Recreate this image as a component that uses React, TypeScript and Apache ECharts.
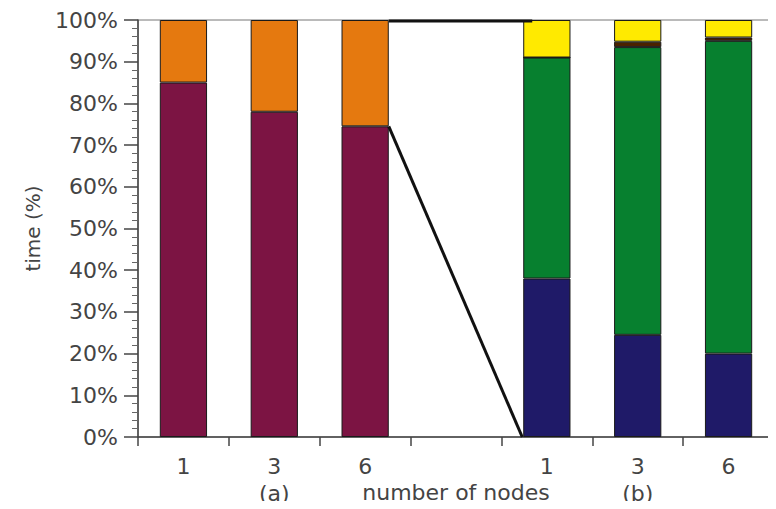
import React, { useEffect, useRef } from "react";
import * as echarts from "echarts";

const categories = ["1", "3", "6", "", "1", "3", "6"];
const groupLabels = ["", "(a)", "", "", "", "(b)", ""];
const maroon = [85, 78, 74.5, null, null, null, null];
const orange = [15, 22, 25.5, null, null, null, null];
const navy = [null, null, null, null, 38, 24.5, 20];
const green = [null, null, null, null, 53, 69, 75];
const brown = [null, null, null, null, 0, 1.3, 0.8];
const yellow = [null, null, null, null, 9, 5.2, 4.2];
// zoom connectors: [fromCategory, fromValue, toCategory, toValue]
const connectors = [
  [2, 74.5, 4, 0],
  [2, 100, 4, 100],
];

const FONT = "DejaVu Sans";
const BAR_PCT = 0.52;

export default function App() {
  const ref = useRef<HTMLDivElement>(null);
  useEffect(() => {
    if (!ref.current) return;
    const chart = echarts.init(ref.current, undefined, { renderer: "svg" });
    const keys = categories.map((c, i) => `${i}|${c}`);
    const barStyle = (color: string) => ({
      color,
      borderColor: "#1a1a1a",
      borderWidth: 1,
    });
    const mk = (name: string, data: (number | null)[], color: string) => ({
      name,
      type: "bar",
      stack: "total",
      data,
      barWidth: `${BAR_PCT * 100}%`,
      itemStyle: barStyle(color),
    });
    chart.setOption({
      animation: false,
      backgroundColor: "#ffffff",
      textStyle: { fontFamily: FONT },
      grid: {
        left: 138,
        right: 2,
        top: 20,
        bottom: 72,
        show: true,
        borderColor: "#777",
        borderWidth: 1,
        containLabel: false,
        outerBoundsMode: "none",
      },
      xAxis: {
        type: "category",
        data: keys,
        name: "number of nodes",
        nameLocation: "middle",
        nameGap: 44,
        nameMoveOverlap: false,
        nameTextStyle: { fontFamily: FONT, fontSize: 22, color: "#444" },
        axisLine: { lineStyle: { color: "#444", width: 1.5 } },
        axisTick: { show: true, length: 9, lineStyle: { color: "#444", width: 1.5 } },
        axisLabel: {
          margin: 16,
          fontFamily: FONT,
          fontSize: 22,
          color: "#444",
          lineHeight: 27,
          interval: 0,
          formatter: (_v: string, i: number) =>
            groupLabels[i] ? `${categories[i]}\n${groupLabels[i]}` : categories[i],
        },
        splitLine: { show: false },
      },
      yAxis: {
        type: "value",
        min: 0,
        max: 100,
        interval: 10,
        name: "time (%)",
        nameLocation: "middle",
        nameGap: 95,
        nameMoveOverlap: false,
        nameTextStyle: { fontFamily: FONT, fontSize: 20, color: "#444" },
        axisLine: { show: true, lineStyle: { color: "#444", width: 1.5 } },
        axisTick: { show: true, length: 14, lineStyle: { color: "#444", width: 1.5 } },
        minorTick: { show: true, splitNumber: 5, length: 6, lineStyle: { color: "#666", width: 1 } },
        axisLabel: {
          margin: 20,
          fontFamily: FONT,
          fontSize: 22,
          color: "#444",
          formatter: "{value}%",
        },
        splitLine: { show: false },
      },
      series: [
        mk("a-main", maroon, "#7c1443"),
        mk("a-rest", orange, "#e5790f"),
        mk("b-navy", navy, "#1f1a68"),
        mk("b-green", green, "#07802f"),
        mk("b-brown", brown, "#4a2200"),
        mk("b-yellow", yellow, "#ffea00"),
        {
          type: "custom",
          z: 10,
          silent: true,
          data: connectors,
          renderItem: (params: any, api: any) => {
            const band = api.size([1, 0])[0];
            const half = (band * BAR_PCT) / 2;
            const p1 = api.coord([api.value(0), api.value(1)]);
            const p2 = api.coord([api.value(2), api.value(3)]);
            const top = params.dataIndex === 1;
            return {
              type: "line",
              shape: {
                x1: p1[0] + half,
                y1: p1[1] + (top ? 1 : 0),
                x2: p2[0] - half + (top ? 9 : -1),
                y2: p2[1] + (top ? 1 : 0),
              },
              style: { stroke: "#111", lineWidth: 3 },
            };
          },
        },
      ],
    });
    return () => chart.dispose();
  }, []);
  return <div ref={ref} style={{ width: 776, height: 509, margin: -8 }} />;
}
